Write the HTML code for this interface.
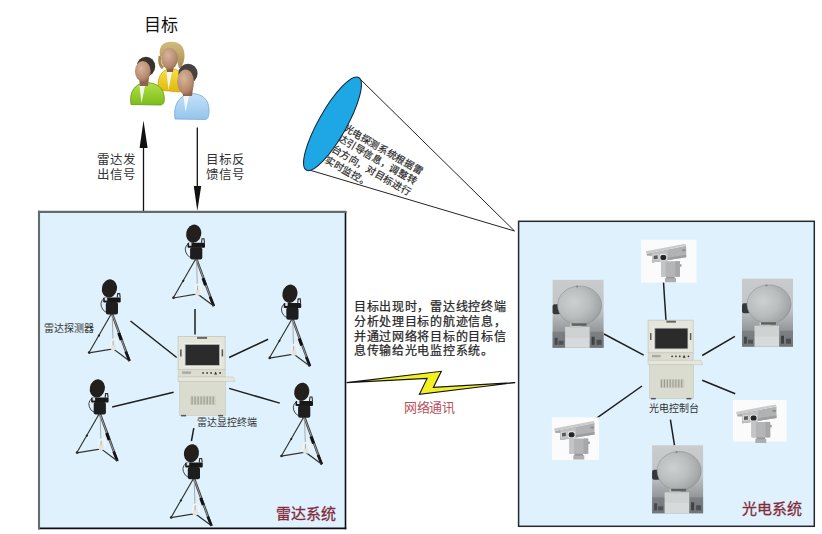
<!DOCTYPE html>
<html lang="zh-CN"><head><meta charset="utf-8">
<style>
html,body{margin:0;padding:0;background:#fff;}
body{width:822px;height:534px;position:relative;overflow:hidden;font-family:"Liberation Sans",sans-serif;}
svg{position:absolute;left:0;top:0;}
.t{position:absolute;white-space:nowrap;line-height:1;color:#222;}
</style></head><body>
<svg width="822" height="534" viewBox="0 0 822 534">
<defs>
  <g id="det">
    <path d="M-5,10 q-6,5 -1,12 q2,2 4,2" stroke="#333" stroke-width="0.9" fill="none"/>
    <line x1="2" y1="26" x2="-20.3" y2="64.7" stroke="#2a2a2a" stroke-width="1.1"/>
    <line x1="-11" y1="47" x2="-9.5" y2="48" stroke="#222" stroke-width="2"/>
    <line x1="3" y1="26" x2="20.3" y2="72.8" stroke="#3a3a3a" stroke-width="2.4"/>
    <line x1="3.3" y1="27" x2="19.5" y2="71" stroke="#b5b5b5" stroke-width="0.8"/>
    <line x1="9.5" y1="45" x2="12" y2="52" stroke="#111" stroke-width="3"/>
    <line x1="16.5" y1="63.5" x2="20.3" y2="72.8" stroke="#151515" stroke-width="2.6"/>
    <circle cx="-20" cy="64.5" r="1.3" fill="#222"/>
    <line x1="3" y1="26" x2="4" y2="58" stroke="#999" stroke-width="0.8"/>
    <polyline points="-20.3,64.7 4,60.7 20.3,72.8" stroke="#333" stroke-width="1.2" fill="none"/>
    <path d="M2,61 l0,-8 q3,-4 6,0 l0,6" stroke="#f4f4ee" stroke-width="1.6" fill="none"/>
    <rect x="2" y="57" width="4.5" height="5" fill="#e4e4dc"/>
    <ellipse cx="0.3" cy="0.3" rx="7.5" ry="9.2" fill="#231f1d" transform="rotate(12)"/>
    <rect x="-6" y="9.5" width="17.5" height="5" rx="1" fill="#181818"/>
    <rect x="-3.4" y="14" width="12.2" height="12.3" rx="2" fill="#1e1e1e"/>
    <rect x="-4.5" y="9.5" width="2.5" height="3" fill="#d8dde0"/>
    <path d="M8,9.5 l0.5,-4 l2,0 l0.5,4" stroke="#2a2a2a" stroke-width="1.1" fill="none"/>
  </g>
  <g id="con">
    <rect x="0" y="0" width="47" height="33" fill="#e4e6db" stroke="#c4c7bb" stroke-width="0.8"/>
    <rect x="5.5" y="6.5" width="37.5" height="24" fill="#eef0e6"/>
    <rect x="19" y="0.5" width="10" height="2" fill="#666"/>
    <rect x="7" y="8" width="34.5" height="21" fill="#2b2b2b" stroke="#bbb" stroke-width="0.8"/>
    <rect x="2" y="13" width="1.5" height="7" fill="#555"/>
    <rect x="43.5" y="13" width="1.5" height="7" fill="#555"/>
    <rect x="0" y="33" width="47" height="7.5" fill="#dcddd0" stroke="#c6c7ba" stroke-width="0.6"/>
    <rect x="4" y="35" width="9" height="2.5" fill="#aaa"/>
    <circle cx="25" cy="36.5" r="0.9" fill="#333"/>
    <circle cx="29" cy="36.5" r="0.9" fill="#333"/>
    <circle cx="33" cy="36.5" r="0.9" fill="#333"/>
    <path d="M36,38 l1.5,-3 l1.5,3z" fill="#333"/>
    <circle cx="42" cy="36.5" r="0.9" fill="#333"/>
    <polygon points="0,40.5 55,40.5 57,45 0,45" fill="#e6e7da" stroke="#c6c7ba" stroke-width="0.6"/>
    <rect x="1.5" y="45" width="46" height="34" fill="#d9dccf" stroke="#c4c7bb" stroke-width="0.6"/>
    <rect x="12" y="59.5" width="26" height="9" fill="#cfd0c4"/>
    <g stroke="#9a9b90" stroke-width="1.2">
      <line x1="14" y1="60" x2="14" y2="68"/><line x1="17" y1="60" x2="17" y2="68"/>
      <line x1="20" y1="60" x2="20" y2="68"/><line x1="23" y1="60" x2="23" y2="68"/>
      <line x1="26" y1="60" x2="26" y2="68"/><line x1="29" y1="60" x2="29" y2="68"/>
      <line x1="32" y1="60" x2="32" y2="68"/><line x1="35" y1="60" x2="35" y2="68"/>
    </g>
    <rect x="3" y="78.5" width="5" height="1.5" fill="#555"/>
    <rect x="40" y="78.5" width="5" height="1.5" fill="#555"/>
  </g>
  <linearGradient id="dbg" x1="0" y1="0" x2="0" y2="1">
    <stop offset="0" stop-color="#c9cbcd"/>
    <stop offset="0.45" stop-color="#c2c5c7"/>
    <stop offset="0.6" stop-color="#aaaeb0"/>
    <stop offset="0.8" stop-color="#8d9194"/>
    <stop offset="1" stop-color="#777b7e"/>
  </linearGradient>
  <radialGradient id="sph" cx="0.36" cy="0.42" r="0.72">
    <stop offset="0" stop-color="#cdd0d0"/>
    <stop offset="0.5" stop-color="#babebe"/>
    <stop offset="0.85" stop-color="#a3a7a8"/>
    <stop offset="1" stop-color="#8a8e90"/>
  </radialGradient>
  <g id="dome">
    <rect x="0" y="0" width="51" height="68" fill="url(#dbg)"/>
    <rect x="0" y="52" width="13" height="16" fill="#6f7376" opacity="0.6"/>
    <rect x="38" y="52" width="13" height="16" fill="#6f7376" opacity="0.6"/>
    <rect x="12.5" y="47" width="24.5" height="11" fill="#cfd2d2"/>
    <rect x="12.5" y="57.5" width="24.5" height="10.5" fill="#d7dada"/>
    <rect x="2" y="58" width="3" height="7" fill="#45494c"/>
    <rect x="6" y="61" width="5" height="4" fill="#4e5255"/>
    <rect x="39" y="57" width="3" height="8" fill="#3e4245"/>
    <rect x="44" y="60" width="5" height="5" fill="#4a4e51"/>
    <rect x="17.5" y="40.5" width="11" height="7.5" fill="#c2c6c6"/>
    <rect x="0" y="24.5" width="8" height="10" rx="2" fill="#35383b"/>
    <ellipse cx="27" cy="25.5" rx="22" ry="19.3" fill="url(#sph)" stroke="#878b8d" stroke-width="0.5"/>
    <rect x="19" y="43.5" width="15" height="2.5" fill="#5e6264"/>
    <circle cx="24.5" cy="6.8" r="1.1" fill="#84888a"/>
  </g>
  <g id="cam">
    <rect x="15.4" y="10" width="18.8" height="15.5" rx="1" fill="#b4b5b6"/>
    <rect x="15.4" y="10" width="4.5" height="15.5" fill="#c4c5c6"/>
    <rect x="29.5" y="10" width="4.7" height="15.5" fill="#a6a7a8"/>
    <rect x="34" y="13" width="1.8" height="2.5" fill="#9c9d9e"/>
    <path d="M19.3,27 q5.5,-2.5 11,0 l0,4 l-11,0z" fill="#adaeaf"/>
    <rect x="20.5" y="25.3" width="8.5" height="2" fill="#98999a"/>
    <polygon points="6,1.5 40.5,-5.5 40.5,6 6.6,11.4" fill="#b1b2b3"/>
    <polygon points="6,9 40.5,3.5 40.5,6 6.6,11.4" fill="#9c9d9e"/>
    <polygon points="0,0 39.6,-7.5 40.6,-5.6 6,1.6 1,2.8" fill="#c9cacb"/>
    <polygon points="0,0 1,2.8 6,1.6 6.3,4.5 1.5,4.5" fill="#a9aaab"/>
    <rect x="36.5" y="-2" width="3.5" height="2" fill="#8e8f90"/>
    <polygon points="6.3,2 22,-1.2 22,9.6 6.6,11.4" fill="#bfc0c1"/>
    <polygon points="7,3.6 12.7,3 12.7,8.6 7,9" fill="#d8d8d8"/>
    <polygon points="8,4.5 11.9,4.1 11.9,7.8 8,8.1" fill="#5a5b5c"/>
    <rect x="13.8" y="2.8" width="7.4" height="6.6" rx="2.2" fill="#ececec"/>
    <rect x="14.7" y="3.7" width="5.8" height="5" rx="1.9" fill="#242424"/>
  </g>
</defs>

<!-- top arrows -->
<line x1="143.5" y1="146" x2="143.5" y2="212" stroke="#111" stroke-width="1.3"/>
<polygon points="143.5,120.5 139.6,148 147.6,148" fill="#111"/>
<line x1="197.3" y1="127.5" x2="197.3" y2="188" stroke="#111" stroke-width="1.3"/>
<polygon points="197.3,211 193.8,186 201.2,186" fill="#111"/>

<!-- people -->
<g id="people">
  <defs>
    <linearGradient id="gY" x1="0" y1="0" x2="0" y2="1"><stop offset="0" stop-color="#f6e04a"/><stop offset="1" stop-color="#e0b808"/></linearGradient>
    <linearGradient id="gG" x1="0" y1="0" x2="0" y2="1"><stop offset="0" stop-color="#b4e048"/><stop offset="1" stop-color="#7cbc18"/></linearGradient>
    <linearGradient id="gB" x1="0" y1="0" x2="0" y2="1"><stop offset="0" stop-color="#c4e2f8"/><stop offset="1" stop-color="#94c4ec"/></linearGradient>
    <radialGradient id="gF" cx="0.4" cy="0.35" r="0.7"><stop offset="0" stop-color="#d8b49a"/><stop offset="0.7" stop-color="#b88c70"/><stop offset="1" stop-color="#9a6e54"/></radialGradient>
    <linearGradient id="gH" x1="0" y1="0" x2="0" y2="1"><stop offset="0" stop-color="#d2bc80"/><stop offset="1" stop-color="#a88c4c"/></linearGradient>
  </defs>
  <!-- back woman yellow -->
  <path d="M158,90 C157,78 161,70 170,68.5 C178,68.5 182,73 182.5,80 C183,88 181,92 179,92 Z" fill="url(#gY)" stroke="#c8a000" stroke-width="0.7"/>
  <path d="M166.5,72 L168.5,90 L172,72 Z" fill="#f8f6ee"/>
  <path d="M166,64 L167,72 L173,72 L174,64 Z" fill="#8a6048"/>
  <path d="M160,56 C158,44 166,41 172,41.8 C181,42 185,48 184.5,57 C184,63 182,67 179,68.5 L176,56 Z" fill="url(#gH)"/>
  <path d="M160,56 C159,62 160,66 163,68" stroke="#a88c4c" stroke-width="3" fill="none"/>
  <ellipse cx="169.5" cy="58.5" rx="8.3" ry="10.8" fill="url(#gF)"/>
  <!-- left man green -->
  <path d="M131,104.5 C129,93 134,84 145,82.5 C157,82.5 164,88 164.3,98 C164.5,103 163,105 160,105 Z" fill="url(#gG)" stroke="#5e9c10" stroke-width="0.8"/>
  <path d="M139.5,86 L141.5,103 L145,86 Z" fill="#f4f4ee"/>
  <path d="M139,77 L140,86 L148,86 L149,77 Z" fill="#8c6450"/>
  <ellipse cx="146" cy="66.5" rx="9.2" ry="9.8" fill="#3a322c"/>
  <ellipse cx="142.8" cy="71.2" rx="7.9" ry="10.2" fill="url(#gF)"/>
  <!-- right man blue -->
  <path d="M175,119 C173,105 179,95 191,93.5 C203,93.5 209,100 209,110 C209,116 208,119.5 205,119.5 Z" fill="url(#gB)" stroke="#78a8d0" stroke-width="0.8"/>
  <path d="M183.5,96 L185.5,112 L189,96 Z" fill="#f6f6f6"/>
  <path d="M182,88 L183,96 L192,96 L193,88 Z" fill="#8c6450"/>
  <ellipse cx="188" cy="73.5" rx="9.6" ry="9.8" fill="#46423f"/>
  <ellipse cx="185.6" cy="82" rx="8.5" ry="12.5" fill="url(#gF)"/>
</g>

<!-- cone -->
<polygon points="358,77 514.5,231 306,169" fill="#fff" stroke="#222" stroke-width="1"/>

<!-- left box -->
<rect x="39" y="211.9" width="306.5" height="316.5" fill="#dff1fc"/>
<g stroke-linecap="square">
<line x1="345.5" y1="211.9" x2="345.5" y2="528.4" stroke="#0c0f16" stroke-width="1.6"/>
<line x1="39" y1="528.4" x2="345.5" y2="528.4" stroke="#0c0f16" stroke-width="1.6"/>
<line x1="39" y1="211.9" x2="39" y2="528.4" stroke="#626c6c" stroke-width="2.1"/>
<line x1="39" y1="211.9" x2="345.5" y2="211.9" stroke="#626c6c" stroke-width="2.1"/>
</g>
<g stroke="#1e1e1e" stroke-width="1.5">
  <line x1="195" y1="309" x2="195" y2="334.4"/>
  <line x1="130.5" y1="321" x2="176.7" y2="357.5"/>
  <line x1="229.1" y1="357.5" x2="268.1" y2="339.2"/>
  <line x1="112.2" y1="407" x2="173.6" y2="392.3"/>
  <line x1="229.1" y1="388.4" x2="279.8" y2="403.1"/>
  <line x1="193.8" y1="428.1" x2="191.4" y2="441"/>
</g>
<use href="#det" x="193.5" y="233.3"/>
<use href="#det" x="109.2" y="288.1"/>
<use href="#det" x="289.7" y="293.4"/>
<use href="#det" x="97.1" y="388.1"/>
<use href="#det" x="301.5" y="391.5"/>
<use href="#det" x="191.2" y="453"/>
<use href="#con" x="178.1" y="336.4"/>

<!-- right box -->
<rect x="518.6" y="221.3" width="295.7" height="305" fill="#dff1fc" stroke="#24282f" stroke-width="1.5"/>
<g stroke="#1e1e1e" stroke-width="1.5">
  <line x1="663.5" y1="282" x2="666" y2="321"/>
  <line x1="604" y1="334" x2="643.7" y2="355.1"/>
  <line x1="702.2" y1="355.5" x2="734.9" y2="336.4"/>
  <line x1="595.6" y1="418.9" x2="642" y2="386"/>
  <line x1="702.2" y1="380.2" x2="735.2" y2="393.7"/>
  <line x1="670.4" y1="419.6" x2="674.5" y2="445.3"/>
</g>
<rect x="641.1" y="239.7" width="55.4" height="42.9" fill="#fbfbfb"/>
<rect x="551.8" y="417.3" width="47.2" height="42.7" fill="#fbfbfb"/>
<rect x="733" y="400" width="53.6" height="41.6" fill="#fbfbfb"/>
<use href="#cam" x="645.7" y="251.2"/>
<use href="#cam" x="554" y="428.5"/>
<use href="#cam" x="736" y="411.9"/>
<use href="#dome" x="552.6" y="279.8"/>
<use href="#dome" x="742" y="278.7"/>
<use href="#dome" x="652.1" y="445.3"/>
<use href="#con" x="648.1" y="320.2" transform="translate(648.1 320.2) scale(0.96 0.99) translate(-648.1 -320.2)"/>

<!-- lightning -->
<polygon points="346.6,382.6 441.3,371.3 433.4,387.4 515.2,382.6 419.4,394.3 427.1,378.4" fill="#f2ef22" stroke="#111" stroke-width="1.1" stroke-linejoin="miter"/>
</svg>

<!-- texts -->
<div class="t" style="left:144.3px;top:17px;font-size:17px;color:#111;">目标</div>
<div class="t" style="left:97px;top:152.5px;font-size:12.5px;line-height:15.5px;color:#333;">雷达发<br>出信号</div>
<div class="t" style="left:206px;top:152.5px;font-size:12.5px;line-height:15.5px;color:#333;">目标反<br>馈信号</div>

<div class="t" style="left:354px;top:300px;font-size:12px;letter-spacing:0.7px;line-height:14.8px;color:#222;-webkit-text-stroke:0.25px #333;">目标出现时，雷达线控终端<br>分析处理目标的航迹信息，<br>并通过网络将目标的目标信<br>息传输给光电监控系统。</div>
<div class="t" style="left:404px;top:400.5px;font-size:13px;letter-spacing:-0.3px;color:#b8505e;">网络通讯</div>

<div class="t" style="left:44px;top:323.5px;font-size:10px;color:#333;">雷达探测器</div>
<div class="t" style="left:197px;top:418px;font-size:10px;color:#333;">雷达显控终端</div>
<div class="t" style="left:275.5px;top:506px;font-size:15px;color:#7e2838;-webkit-text-stroke:0.3px #8a3445;">雷达系统</div>

<div class="t" style="left:649px;top:403.5px;font-size:10px;color:#333;">光电控制台</div>
<div class="t" style="left:742px;top:501px;font-size:15px;color:#7e2838;-webkit-text-stroke:0.3px #8a3445;">光电系统</div>

<!-- cone text -->
<div class="t" style="left:347px;top:122px;font-size:9.8px;line-height:12.2px;color:#222;-webkit-text-stroke:0.2px #333;transform-origin:0 0;transform:rotate(30deg);">光电探测系统根据雷<br>达引导信息，调整转<br>台方向，对目标进行<br>实时监控。</div>
<svg width="822" height="534" viewBox="0 0 822 534" style="pointer-events:none">
<ellipse cx="332.5" cy="123.8" rx="53.2" ry="14" transform="rotate(-60.5 332.5 123.8)" fill="#1ea7e5" stroke="#1a2a3a" stroke-width="1.1"/>
</svg>
</body></html>
